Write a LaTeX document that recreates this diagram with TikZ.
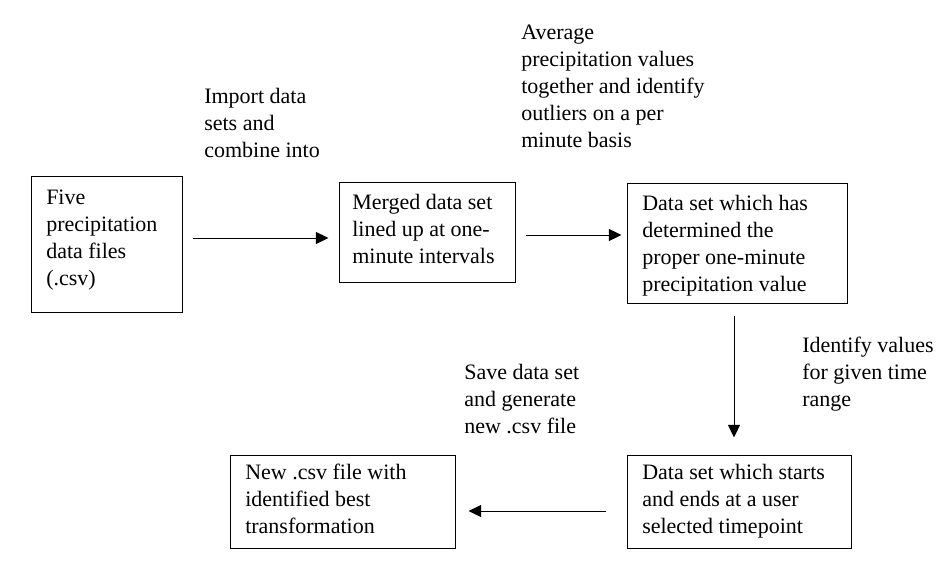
\documentclass[tikz,border=0pt]{standalone}
\usepackage{fontspec}
\setmainfont{Liberation Serif}
\usetikzlibrary{arrows.meta}
\newlength\pxl
\setlength\pxl{0.75pt}
\tikzset{
  box/.style={draw, line width=0.75pt, inner sep=0pt},
  txt/.style={anchor=north west, align=left, inner sep=0pt, font=\fontsize{16.5}{20.25}\selectfont},
  arr/.style={line width=0.75pt, -{Triangle[length=9.5pt,width=9pt]}}
}
\begin{document}
\begin{tikzpicture}[x=0.75pt, y=-0.75pt]
\useasboundingbox (0,0) rectangle (948,578);
% boxes
\node[box, minimum width=151\pxl, minimum height=136\pxl] (b1) at (106.5,244) {};
\node[box, minimum width=176\pxl, minimum height=100\pxl] (b2) at (427,232) {};
\node[box, minimum width=220\pxl, minimum height=120\pxl] (b3) at (737,243.5) {};
\node[box, minimum width=224\pxl, minimum height=93\pxl] (b4) at (739,501.5) {};
\node[box, minimum width=225\pxl, minimum height=93\pxl] (b5) at (342.5,501.5) {};
% box texts
\node[txt] (t1) at (46,185) {\strut Five\\precipitation\\data files\\(.csv)};
\node[txt] (t2) at (352,190) {\strut Merged data set\\lined up at one-\\minute intervals};
\begin{scope}
\clip (627,183) rectangle (847,296);
\node[txt] (t3) at (642,191) {\strut Data set which has\\determined the\\proper one-minute\\precipitation value};
\end{scope}
\node[txt] (t4) at (642,460) {\strut Data set which starts\\and ends at a user\\selected timepoint};
\node[txt] (t5) at (245,460) {\strut New .csv file with\\identified best\\transformation};
% labels
\node[txt] (l1) at (204,84) {\strut Import data\\sets and\\combine into};
\node[txt] (l2) at (521,20) {\strut Average\\precipitation values\\together and identify\\outliers on a per\\minute basis};
\node[txt] (l3) at (802,333) {\strut Identify values\\for given time\\range};
\node[txt] (l4) at (464,360) {\strut Save data set\\and generate\\new .csv file};
% arrow levels
\coordinate (y1) at (0,238);
\coordinate (y2) at (0,235);
\coordinate (x3) at (734,0);
\coordinate (y4) at (0,511);
% connectors
\draw[arr, shorten <=10\pxl, shorten >=10\pxl] (b1.east |- y1) -- (b2.west |- y1);
\draw[arr, shorten <=10\pxl, shorten >=5\pxl] (b2.east |- y2) -- (b3.west |- y2);
\draw[arr, shorten <=12\pxl, shorten >=17\pxl] (x3 |- b3.south) -- (x3 |- b4.north);
\draw[arr, shorten <=21\pxl, shorten >=13\pxl] (b4.west |- y4) -- (b5.east |- y4);
\end{tikzpicture}
\end{document}
